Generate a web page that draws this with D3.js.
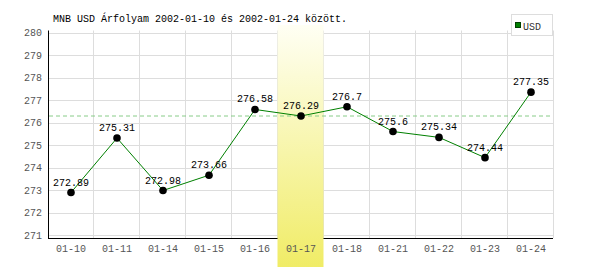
<!DOCTYPE html>
<html>
<head>
<meta charset="utf-8" />
<title>MNB USD</title>
<script src="https://d3js.org/d3.v7.min.js"></script>
<style>
  body { margin: 0; background: #fff; }
  svg text { font-family: "Liberation Mono", "DejaVu Sans Mono", monospace; }
</style>
</head>
<body>
<svg id="chart" width="600" height="270"></svg>
<script>
// adatok
var dates = ["01-10", "01-11", "01-14", "01-15", "01-16", "01-17", "01-18", "01-21", "01-22", "01-23", "01-24"];
var rates = [272.89, 275.31, 272.98, 273.66, 276.58, 276.29, 276.7, 275.6, 275.34, 274.44, 277.35];
var yTicks = [271, 272, 273, 274, 275, 276, 277, 278, 279, 280];
var highlightDate = "01-17";
var refRate = 276.29;
var title = "MNB USD Árfolyam 2002-01-10 és 2002-01-24 között.";
var seriesName = "USD";

var svg = d3.select("#chart");
var plotLeft = 48, plotRight = 554, plotTop = 32.5, plotBottom = 238;

var x = d3.scaleBand().domain(dates).range([plotLeft, plotRight]);
var y = d3.scaleLinear().domain([270.87, 280]).range([plotBottom, plotTop]);

// sarga kiemelés
var defs = svg.append("defs");
var grad = defs.append("linearGradient").attr("id", "hl").attr("x1", 0).attr("y1", 0).attr("x2", 0).attr("y2", 1);
grad.append("stop").attr("offset", "0%").attr("stop-color", "#fffff4");
grad.append("stop").attr("offset", "100%").attr("stop-color", "#f0ec66");

// rács
svg.append("g").selectAll("line").data(yTicks).enter().append("line")
    .attr("x1", plotLeft).attr("x2", plotRight - 1)
    .attr("y1", function (d) { return Math.round(y(d)) + 0.5; })
    .attr("y2", function (d) { return Math.round(y(d)) + 0.5; })
    .attr("stroke", "#dddddd");

svg.append("g").selectAll("line").data(dates).enter().append("line")
    .attr("x1", function (d) { return Math.round(x(d) + x.bandwidth()) - 0.5; })
    .attr("x2", function (d) { return Math.round(x(d) + x.bandwidth()) - 0.5; })
    .attr("y1", plotTop - 2).attr("y2", plotBottom)
    .attr("stroke", "#dddddd");

// tengelyek
svg.append("line").attr("x1", plotLeft + 0.5).attr("x2", plotLeft + 0.5).attr("y1", plotTop - 2).attr("y2", plotBottom + 0.5)
    .attr("stroke", "#000");
svg.append("line").attr("x1", plotLeft).attr("x2", plotRight - 1).attr("y1", plotBottom + 0.5).attr("y2", plotBottom + 0.5)
    .attr("stroke", "#000");

svg.append("rect")
    .attr("x", Math.round(x(highlightDate)) - 0.5)
    .attr("y", 25)
    .attr("width", x.bandwidth())
    .attr("height", 242)
    .attr("fill", "url(#hl)");

// tengely feliratok
svg.append("g").selectAll("text").data(yTicks).enter().append("text")
    .attr("x", 42).attr("y", function (d) { return y(d) + 3.5; })
    .attr("text-anchor", "end")
    .attr("font-size", 10).attr("fill", "#555")
    .text(function (d) { return d; });

svg.append("g").selectAll("text").data(dates).enter().append("text")
    .attr("x", function (d) { return x(d) + x.bandwidth() / 2; })
    .attr("y", 252)
    .attr("text-anchor", "middle")
    .attr("font-size", 10).attr("fill", "#555")
    .text(function (d) { return d; });

// referencia vonal
svg.append("line")
    .attr("x1", plotLeft + 1).attr("x2", plotRight - 1)
    .attr("y1", y(refRate)).attr("y2", y(refRate))
    .attr("stroke", "#88cc88").attr("stroke-dasharray", "4,3");

// vonal + pontok
var line = d3.line()
    .x(function (d, i) { return x(dates[i]) + x.bandwidth() / 2; })
    .y(function (d) { return y(d); });

svg.append("path").datum(rates)
    .attr("d", line)
    .attr("fill", "none")
    .attr("stroke", "#008000")
    .attr("stroke-width", 1);

svg.append("g").selectAll("circle").data(rates).enter().append("circle")
    .attr("cx", function (d, i) { return x(dates[i]) + x.bandwidth() / 2; })
    .attr("cy", function (d) { return y(d); })
    .attr("r", 3.8)
    .attr("fill", "#000");

svg.append("g").selectAll("text").data(rates).enter().append("text")
    .attr("x", function (d, i) { return x(dates[i]) + x.bandwidth() / 2; })
    .attr("y", function (d) { return y(d) - 7; })
    .attr("text-anchor", "middle")
    .attr("font-size", 10).attr("fill", "#000")
    .text(function (d) { return d; });

// cím
svg.append("text")
    .attr("x", 53).attr("y", 22)
    .attr("font-size", 10).attr("fill", "#000")
    .text(title);

// jelmagyarázat
var legend = svg.append("g");
legend.append("rect").attr("x", 511.5).attr("y", 14.5).attr("width", 41).attr("height", 21)
    .attr("fill", "#fff").attr("stroke", "#dddddd");
legend.append("rect").attr("x", 515.5).attr("y", 22.5).attr("width", 5).attr("height", 5)
    .attr("fill", "#008000").attr("stroke", "#004000");
legend.append("text").attr("x", 523).attr("y", 29.5)
    .attr("font-family", "'Liberation Sans', sans-serif")
    .attr("font-size", 10).attr("fill", "#333")
    .text(seriesName);
</script>
</body>
</html>
